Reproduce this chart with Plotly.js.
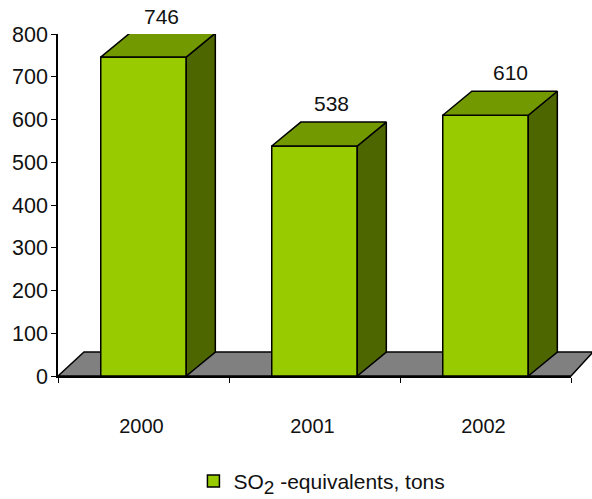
<!DOCTYPE html>
<html>
<head>
<meta charset="utf-8">
<script src="https://cdn.plot.ly/plotly-3.0.1.min.js"></script>
<style>html,body{margin:0;padding:0;background:#fff;overflow:hidden}</style>
</head>
<body>
<div id="chart" style="width:592px;height:499px"></div>
<script>
// Data
const categories = ['2000', '2001', '2002'];
const values = [746, 538, 610];
const seriesName = 'SO<sub><span style="font-size:19px">2</span></sub> -equivalents, tons';
const yTicks = [0, 100, 200, 300, 400, 500, 600, 700, 800];

// Styling
const FRONT = '#99cc00', TOP = '#739900', SIDE = '#4d6600', FLOOR = '#808080';
const FONT = '"Liberation Sans", Arial, sans-serif';
const INK = '#111111';
const BAR_W = 0.5, DX = 0.17, DY = 56;   // bar width and extrusion in axis units
const LINE = {color: '#000', width: 1.5};
const LABEL_DX = [18, 17, 25];           // label offset from bar centre, px
const LABEL_DY = [41, 43, 43];           // label offset above bar front top, px

const idx = categories.map((_, i) => i);
const half = BAR_W / 2;

function polygons(fn) {
  const xs = [], ys = [];
  idx.forEach(i => {
    const p = fn(i, values[i]);
    p.forEach(q => { xs.push(q[0]); ys.push(q[1]); });
    xs.push(null); ys.push(null);
  });
  return {x: xs, y: ys};
}
const sidePoly = polygons((i, v) => [
  [i + half, 0], [i + half + DX, DY], [i + half + DX, v + DY], [i + half, v], [i + half, 0]
]);
const topPoly = polygons((i, v) => [
  [i - half, v], [i - half + DX, v + DY], [i + half + DX, v + DY], [i + half, v], [i - half, v]
]);

const traces = [
  {
    type: 'bar', x: idx, y: values, width: BAR_W, name: seriesName,
    marker: {color: FRONT, line: LINE}, cliponaxis: false, showlegend: true, hoverinfo: 'y'
  },
  {
    type: 'scatter', mode: 'lines', x: sidePoly.x, y: sidePoly.y, fill: 'toself',
    fillcolor: SIDE, line: LINE, cliponaxis: false, showlegend: false, hoverinfo: 'skip'
  },
  {
    type: 'scatter', mode: 'lines', x: topPoly.x, y: topPoly.y, fill: 'toself',
    fillcolor: TOP, line: LINE, cliponaxis: false, showlegend: false, hoverinfo: 'skip'
  }
];

// Value labels above the back edge of each bar top (anchored on the value itself)
const valueLabels = idx.map(i => ({
  x: i, y: values[i], xref: 'x', yref: 'y',
  text: String(values[i]), showarrow: false, xanchor: 'center', yanchor: 'middle',
  xshift: LABEL_DX[i], yshift: LABEL_DY[i],
  font: {family: FONT, size: 21, color: INK}
}));

// Floor: sits behind the bars, extends beyond the plot area on the right
const W = 513, H = 342;
const floorLeft = 26 / W, floorRight = 22 / W, floorUp = 24 / H;
const floorPath = `M0,0 L${floorLeft},${floorUp} L${1 + floorRight},${floorUp} L1,0 Z`;

const layout = {
  width: 592, height: 499,
  margin: {l: 58, r: 21, t: 34, b: 123, pad: 0, autoexpand: false},
  paper_bgcolor: '#fff', plot_bgcolor: 'rgba(0,0,0,0)',
  font: {family: FONT, color: INK},
  xaxis: {
    range: [-0.5, 2.5], tickmode: 'array', tickvals: idx, ticktext: categories,
    ticks: '', showgrid: false, zeroline: false, showline: true,
    linecolor: '#000', linewidth: 1.5, ticklabelstandoff: 31, ticklabelshift: -2,
    tickfont: {family: FONT, size: 20, color: INK},
    minor: {tickmode: 'array', tickvals: [-0.5, 0.5, 1.5, 2.5], ticks: 'outside',
            ticklen: 5, tickwidth: 1.3, tickcolor: '#000', showgrid: false}
  },
  yaxis: {
    range: [0, 800], tickmode: 'array', tickvals: yTicks, ticks: 'outside',
    ticklen: 5, tickwidth: 1.3, tickcolor: '#000', showgrid: false, zeroline: false,
    showline: true, linecolor: '#000', linewidth: 1.5, ticklabelstandoff: -1,
    tickfont: {family: FONT, size: 21.5, color: INK}
  },
  shapes: [{
    type: 'path', layer: 'below', xref: 'paper', yref: 'paper', path: floorPath,
    fillcolor: FLOOR, line: LINE
  }],
  annotations: valueLabels,
  showlegend: true,
  legend: {
    x: 0.264, y: -0.308, xanchor: 'left', yanchor: 'middle', orientation: 'h',
    font: {family: FONT, size: 21, color: INK}, bgcolor: 'rgba(0,0,0,0)', borderwidth: 0
  },
  bargap: 0.5
};

Plotly.newPlot('chart', traces, layout, {displayModeBar: false, responsive: false});
</script>
</body>
</html>
